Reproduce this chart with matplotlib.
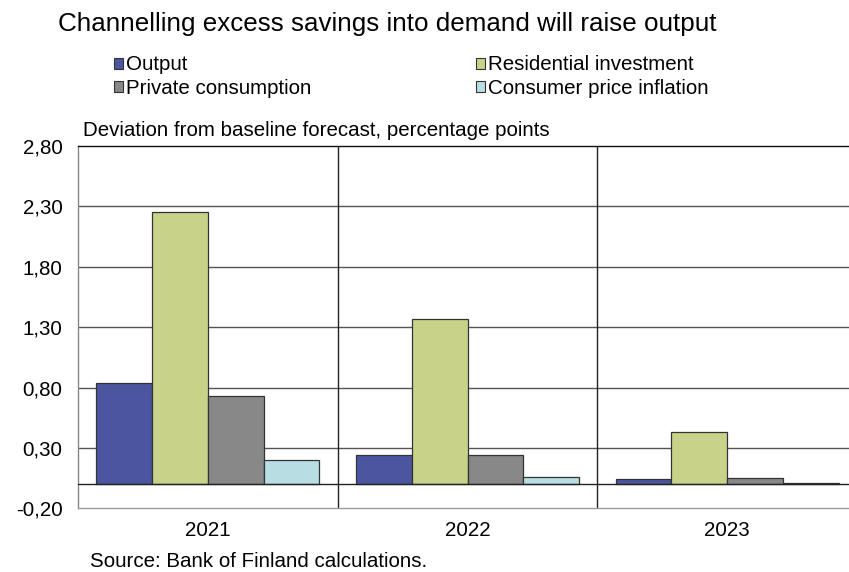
import matplotlib.pyplot as plt
import matplotlib.patches as mpatches
import numpy as np

plt.rcParams['font.family'] = ['Liberation Sans', 'DejaVu Sans']

years = ['2021', '2022', '2023']
series_names = ['Output', 'Residential investment', 'Private consumption', 'Consumer price inflation']
output = [0.84, 0.24, 0.04]
residential = [2.25, 1.37, 0.43]
private = [0.73, 0.24, 0.05]
cpi = [0.20, 0.06, 0.01]
colors = ['#4b55a0', '#c8d389', '#888888', '#b8dee3']
yticks = [-0.2, 0.3, 0.8, 1.3, 1.8, 2.3, 2.8]

fig = plt.figure(figsize=(8.49, 5.72), dpi=100)
ax = fig.add_axes([0.0919, 0.1114, 0.9175, 0.6334])

x = np.arange(len(years))
w = 0.215
values = [output, residential, private, cpi]
for i, (vals, c) in enumerate(zip(values, colors)):
    ax.bar(x + (i - 1.5) * w, vals, w, color=c, edgecolor='#333333', linewidth=0.9,
           label=series_names[i], zorder=3)

ax.set_xlim(-0.5, 2.5)
ax.set_ylim(-0.2, 2.8)
ax.set_yticks(yticks)
ax.set_yticklabels([f'{t:.2f}'.replace('.', ',') for t in yticks])
ax.set_xticks(x)
ax.set_xticklabels(years)
ax.tick_params(axis='both', length=0, labelsize=14.8)
ax.tick_params(axis='y', pad=11)
ax.tick_params(axis='x', pad=9)

for t in yticks[1:-1]:
    ax.axhline(t, color='#555555', linewidth=1, zorder=1)
ax.axhline(0, color='#222222', linewidth=1, zorder=4)
for sep in [0.5, 1.5]:
    ax.axvline(sep, color='#222222', linewidth=1, zorder=1)

ax.spines['right'].set_visible(False)
ax.spines['top'].set_color('#111111')
ax.spines['left'].set_color('#888888')
ax.spines['bottom'].set_color('#999999')
for s in ax.spines.values():
    s.set_linewidth(1)

fig.text(0.068, 0.958, 'Channelling excess savings into demand will raise output',
         fontsize=18.7, va='center', ha='left')
fig.text(0.098, 0.772, 'Deviation from baseline forecast, percentage points',
         fontsize=14.8, va='center', ha='left')
fig.text(0.106, 0.019, 'Source: Bank of Finland calculations.', fontsize=14.8,
         va='center', ha='left')

handles = [mpatches.Patch(facecolor=colors[i], edgecolor='#333333', linewidth=0.8)
           for i in [0, 2, 1, 3]]
labels = [series_names[i] for i in [0, 2, 1, 3]]
fig.legend(handles, labels, ncol=2, loc='upper left', bbox_to_anchor=(0.1216, 0.921),
           frameon=False, fontsize=14.8, handlelength=0.45, handleheight=0.45,
           handletextpad=0.15, columnspacing=8.0, labelspacing=0.22, borderpad=0)

fig.savefig('out.png', dpi=100)
